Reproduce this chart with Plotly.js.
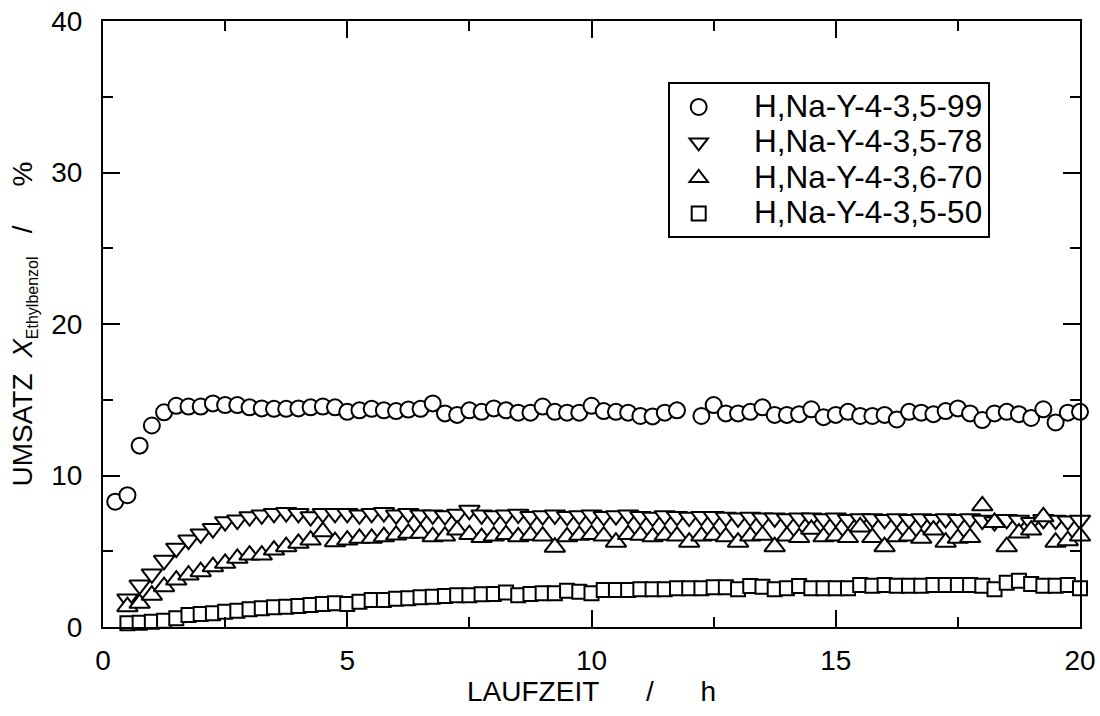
<!DOCTYPE html>
<html>
<head>
<meta charset="utf-8">
<script src="https://cdn.plot.ly/plotly-3.0.1.min.js"></script>
<style>html,body{margin:0;padding:0;background:#fff;}#chart{width:1100px;height:716px;}</style>
</head>
<body>
<div id="chart"></div>
<script>
// Laufzeit / h
const timeAll = [0.25,0.5,0.75,1.0,1.25,1.5,1.75,2.0,2.25,2.5,2.75,3.0,3.25,3.5,3.75,4.0,4.25,4.5,4.75,5.0,
  5.25,5.5,5.75,6.0,6.25,6.5,6.75,7.0,7.25,7.5,7.75,8.0,8.25,8.5,8.75,9.0,9.25,9.5,9.75,10.0,
  10.25,10.5,10.75,11.0,11.25,11.5,11.75,12.0,12.25,12.5,12.75,13.0,13.25,13.5,13.75,14.0,14.25,14.5,14.75,15.0,
  15.25,15.5,15.75,16.0,16.25,16.5,16.75,17.0,17.25,17.5,17.75,18.0,18.25,18.5,18.75,19.0,19.25,19.5,19.75,20.0];
const timeFrom05 = [0.5,0.75,1.0,1.25,1.5,1.75,2.0,2.25,2.5,2.75,3.0,3.25,3.5,3.75,4.0,4.25,4.5,4.75,5.0,
  5.25,5.5,5.75,6.0,6.25,6.5,6.75,7.0,7.25,7.5,7.75,8.0,8.25,8.5,8.75,9.0,9.25,9.5,9.75,10.0,
  10.25,10.5,10.75,11.0,11.25,11.5,11.75,12.0,12.25,12.5,12.75,13.0,13.25,13.5,13.75,14.0,14.25,14.5,14.75,15.0,
  15.25,15.5,15.75,16.0,16.25,16.5,16.75,17.0,17.25,17.5,17.75,18.0,18.25,18.5,18.75,19.0,19.25,19.5,19.75,20.0];

// Umsatz X_Ethylbenzol / %
const s99 = [8.27,8.7,11.97,13.3,14.17,14.6,14.55,14.55,14.76,14.65,14.65,14.5,14.43,14.4,14.4,14.43,14.5,14.55,14.5,14.2,
  14.3,14.4,14.3,14.25,14.35,14.4,14.76,14.1,14.0,14.3,14.2,14.43,14.3,14.15,14.15,14.55,14.2,14.15,14.15,14.6,
  14.25,14.2,14.15,13.93,13.9,14.15,14.3,null,13.93,14.65,14.1,14.1,14.2,14.5,14.0,14.0,14.05,14.37,13.85,14.0,
  14.2,13.93,13.93,14.0,13.7,14.2,14.15,14.05,14.25,14.43,14.1,13.66,14.1,14.2,14.05,13.8,14.37,13.5,14.15,14.2];
const s78 = [1.85,2.77,3.5,4.4,5.2,5.74,6.14,6.5,6.95,7.06,7.28,7.4,7.5,7.55,7.5,7.28,7.5,7.5,7.5,
  7.4,7.5,7.55,7.4,7.5,7.4,7.4,7.35,7.45,7.7,7.4,7.35,7.4,7.45,7.3,7.35,7.4,7.3,7.35,7.4,
  7.3,7.35,7.4,7.3,7.25,7.35,7.3,7.25,7.3,7.3,7.25,7.2,7.25,7.2,7.2,7.15,7.2,7.2,7.15,7.2,
  7.1,7.15,7.15,7.1,7.15,7.1,7.15,7.1,7.15,7.1,7.15,7.05,6.95,7.1,7.05,6.9,7.1,7.05,7.0,7.05];
const s70 = [1.34,1.56,2.1,2.66,3.1,3.43,3.65,3.98,4.2,4.53,4.75,4.75,5.08,5.3,5.52,5.74,6.29,5.63,5.74,
  5.85,5.85,5.96,6.07,6.18,6.18,5.96,6.0,6.4,6.1,5.9,6.0,6.1,5.95,6.05,6.0,5.27,5.95,6.05,6.1,
  6.0,5.6,6.1,6.05,5.95,6.05,6.0,5.6,6.0,6.05,5.95,5.6,6.0,6.05,5.3,6.0,5.9,6.45,5.95,6.0,
  5.9,6.6,5.9,5.3,5.95,6.0,5.85,6.4,5.6,5.85,5.9,8.0,6.9,5.3,6.2,6.4,7.27,5.6,5.7,6.0];
const s50 = [0.24,0.28,0.35,0.42,0.57,0.79,0.86,0.9,1.0,1.08,1.17,1.23,1.3,1.34,1.39,1.45,1.52,1.56,1.52,
  1.67,1.78,1.78,1.87,1.89,1.96,2.0,2.05,2.1,2.1,2.16,2.18,2.27,2.1,2.18,2.22,2.22,2.4,2.33,2.22,
  2.44,2.44,2.44,2.49,2.49,2.49,2.55,2.55,2.55,2.62,2.62,2.49,2.7,2.66,2.49,2.55,2.7,2.55,2.55,2.55,
  2.55,2.77,2.72,2.77,2.72,2.72,2.72,2.77,2.77,2.77,2.77,2.72,2.49,2.92,3.06,2.84,2.72,2.72,2.77,2.55];

const seriesNames = ['H,Na-Y-4-3,5-99','H,Na-Y-4-3,5-78','H,Na-Y-4-3,6-70','H,Na-Y-4-3,5-50'];
const xTickVals = [0,5,10,15,20];
const yTickVals = [0,10,20,30,40];

const FONT = 'Liberation Sans, Arial, Helvetica, sans-serif';

function legendLabel(name) {
  return '<span style="font-size:31.5px">&nbsp;&nbsp;&nbsp;' + name + '</span>';
}

function mk(x, y, name, symbol, size) {
  return {
    type: 'scatter', mode: 'markers', x: x, y: y, name: legendLabel(name), cliponaxis: false,
    marker: {symbol: symbol, size: size, color: '#ffffff', line: {color: '#000000', width: 2}}
  };
}

const traces = [
  mk(timeAll, s99, seriesNames[0], 'circle', 16),
  mk(timeFrom05, s78, seriesNames[1], 'triangle-down', 18),
  mk(timeFrom05, s70, seriesNames[2], 'triangle-up', 18),
  mk(timeFrom05, s50, seriesNames[3], 'square', 14)
];

const axisCommon = {
  showline: true, linecolor: '#000', linewidth: 2, mirror: 'allticks',
  ticks: 'inside', ticklen: 17, tickwidth: 2, tickcolor: '#000',
  showgrid: false, zeroline: false,
  tickfont: {family: FONT, size: 28, color: '#000'}
};

const layout = {
  width: 1100, height: 716,
  margin: {l: 103, r: 20, t: 21, b: 89},
  paper_bgcolor: '#fff', plot_bgcolor: '#fff',
  showlegend: true,
  xaxis: Object.assign({}, axisCommon, {
    range: [0, 20], tickmode: 'array', tickvals: xTickVals, ticktext: xTickVals.map(String),
    ticklabelstandoff: 7,
    minor: {dtick: 2.5, ticks: 'inside', ticklen: 10, tickwidth: 2, tickcolor: '#000', showgrid: false},
    title: {text: 'LAUFZEIT&nbsp;&nbsp;&nbsp;&nbsp;&nbsp;&nbsp;/&nbsp;&nbsp;&nbsp;&nbsp;&nbsp;&nbsp;h', font: {family: FONT, size: 28, color: '#000'}, standoff: 2}
  }),
  yaxis: Object.assign({}, axisCommon, {
    range: [0, 40], tickmode: 'array', tickvals: yTickVals, ticktext: yTickVals.map(String),
    ticklabelstandoff: 13,
    minor: {dtick: 5, ticks: 'inside', ticklen: 10, tickwidth: 2, tickcolor: '#000', showgrid: false},
    title: {text: 'UMSATZ&nbsp;&nbsp;<i>X</i><sub><span style="font-size:16px">Ethylbenzol</span></sub>&nbsp;&nbsp;&nbsp;/&nbsp;&nbsp;&nbsp;&nbsp;&nbsp;%', font: {family: FONT, size: 28, color: '#000'}, standoff: 10}
  }),
  legend: {
    x: 0.578, y: 0.899, xanchor: 'left', yanchor: 'top',
    bordercolor: '#000', borderwidth: 2, bgcolor: '#fff',
    font: {family: FONT, size: 25, color: '#000'},
    itemwidth: 48, tracegroupgap: 0
  }
};

Plotly.newPlot('chart', traces, layout, {displayModeBar: false, staticPlot: true});
</script>
</body>
</html>
